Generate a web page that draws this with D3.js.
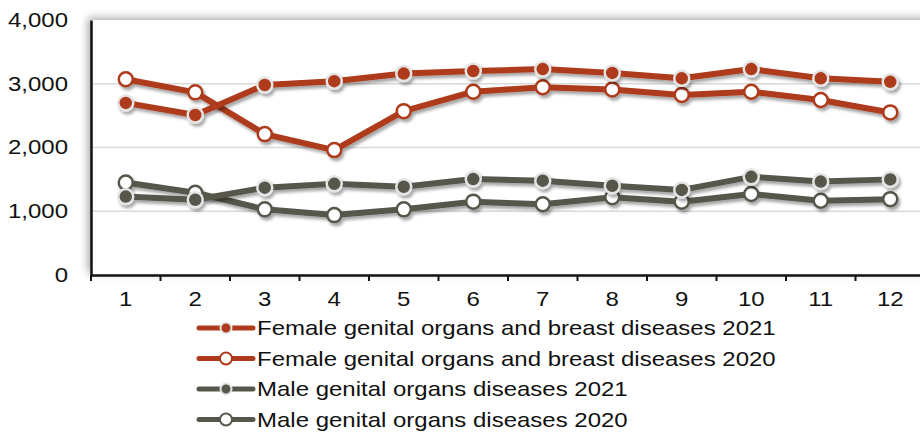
<!DOCTYPE html>
<html>
  <head>
    <meta charset="utf-8">
    <title>Genital organ diseases by month</title>
    <style media="screen">
    body{margin: 0; background: #fff}
    text {font-family: "Liberation Sans", Arial, sans-serif; fill: #111}
    </style>
  </head>
  <body>
    <script src="https://d3js.org/d3.v7.min.js"></script>
    <script type="text/javascript">
      var months = [1, 2, 3, 4, 5, 6, 7, 8, 9, 10, 11, 12]
      var yTicks = [0, 1000, 2000, 3000, 4000]

      var female2021 = [2700, 2510, 2980, 3040, 3160, 3200, 3230, 3170, 3085, 3230, 3085, 3030]
      var female2020 = [3070, 2865, 2210, 1960, 2570, 2875, 2945, 2910, 2825, 2875, 2745, 2550]
      var male2021 = [1230, 1180, 1370, 1430, 1385, 1505, 1480, 1400, 1335, 1540, 1465, 1500]
      var male2020 = [1450, 1290, 1030, 940, 1030, 1150, 1110, 1220, 1150, 1270, 1165, 1190]

      var seriesNames = [
        'Female genital organs and breast diseases 2021',
        'Female genital organs and breast diseases 2020',
        'Male genital organs diseases 2021',
        'Male genital organs diseases 2020'
      ]

      var red = '#ad3a1b', grey = '#57564c'
      var series = [
        {name: seriesNames[0], values: female2021, color: red, open: false},
        {name: seriesNames[1], values: female2020, color: red, open: true},
        {name: seriesNames[2], values: male2021, color: grey, open: false},
        {name: seriesNames[3], values: male2020, color: grey, open: true}
      ]

      var w = 920, h = 440
      var margin = {left: 91, top: 20, right: -5, bottom: 165}
      var stretch = 1.2   // the original text is drawn a little wide

      var svg = d3.select('body').append('svg')
        .attr('width', w)
        .attr('height', h)

      var defs = svg.append('defs')
      defs.append('filter').attr('id', 'frameShadow')
        .attr('x', -0.1).attr('y', -0.2).attr('width', 1.2).attr('height', 1.4)
        .append('feDropShadow')
          .attr('dx', -3).attr('dy', -2).attr('stdDeviation', 4)
          .attr('flood-color', '#000').attr('flood-opacity', 0.35)
      defs.append('filter').attr('id', 'lineShadow')
        .attr('x', -0.1).attr('y', -0.3).attr('width', 1.2).attr('height', 1.6)
        .append('feDropShadow')
          .attr('dx', 2).attr('dy', 3).attr('stdDeviation', 1.6)
          .attr('flood-color', '#000').attr('flood-opacity', 0.35)

      var x = d3.scaleBand()
        .domain(months)
        .range([margin.left, w - margin.right])

      var y = d3.scaleLinear()
        .domain([0, 4000])
        .range([h - margin.bottom, margin.top])

      // plot area with its soft shadow
      svg.append('rect')
        .attr('x', margin.left)
        .attr('y', margin.top)
        .attr('width', w - margin.right - margin.left + 10)
        .attr('height', y(0) - margin.top)
        .attr('fill', '#fff')
        .attr('filter', 'url(#frameShadow)')

      // gridlines
      svg.append('g')
        .selectAll('line')
        .data(yTicks.filter(function(d){ return d > 0 && d < 4000 }))
        .enter().append('line')
          .attr('x1', margin.left)
          .attr('x2', w)
          .attr('y1', function(d){ return y(d) })
          .attr('y2', function(d){ return y(d) })
          .attr('stroke', '#d9d9d9')
          .attr('stroke-width', 1.5)

      // y axis
      var yAxis = svg.append('g')
        .attr('transform', 'translate(' + margin.left + ',0)')
        .call(d3.axisLeft(y).tickValues(yTicks).tickSize(0)
          .tickFormat(d3.format(',')))
      yAxis.select('.domain').attr('stroke', '#111').attr('stroke-width', 2.5)
      yAxis.selectAll('text')
        .style('font-size', '20px')
        .attr('fill', '#111')
        .attr('x', -23 / stretch)
        .attr('transform', 'scale(' + stretch + ',1)')

      // x axis
      var xAxis = svg.append('g')
        .attr('transform', 'translate(0,' + y(0) + ')')
        .call(d3.axisBottom(x).tickSize(0).tickPadding(13))
      xAxis.select('.domain').attr('stroke', '#111').attr('stroke-width', 2.5)
      xAxis.selectAll('text')
        .style('font-size', '20px')
        .attr('fill', '#111')
        .attr('dy', '0.9em')
        .attr('transform', 'scale(' + stretch + ',1)')
      // boundary ticks between months
      xAxis.append('g').selectAll('line')
        .data(months)
        .enter().append('line')
          .attr('x1', function(d){ return x(d) })
          .attr('x2', function(d){ return x(d) })
          .attr('y1', 0)
          .attr('y2', 6)
          .attr('stroke', '#111')
          .attr('stroke-width', 2)

      var line = d3.line()
        .x(function(d, i){ return x(months[i]) + x.bandwidth() / 2 })
        .y(function(d){ return y(d) })

      var drawOrder = [3, 2, 1, 0]
      drawOrder.forEach(function(k){
        var s = series[k]
        var g = svg.append('g').attr('filter', 'url(#lineShadow)')
        g.append('path')
          .datum(s.values)
          .attr('d', line)
          .attr('fill', 'none')
          .attr('stroke', s.color)
          .attr('stroke-width', 6)
          .attr('stroke-linejoin', 'round')
        g.selectAll('circle')
          .data(s.values)
          .enter().append('circle')
            .attr('cx', function(d, i){ return x(months[i]) + x.bandwidth() / 2 })
            .attr('cy', function(d){ return y(d) })
            .attr('r', s.open ? 7 : 7.5)
            .attr('fill', s.open ? '#fff' : s.color)
            .attr('stroke', s.open ? s.color : '#e4e4e4')
            .attr('stroke-width', 2.5)
      })

      // legend
      var legend = svg.append('g')
        .attr('transform', 'translate(197,328)')
      var row = legend.selectAll('g')
        .data(series)
        .enter().append('g')
          .attr('transform', function(d, i){ return 'translate(0,' + (i * 30.5) + ')' })
      row.append('line')
        .attr('x1', 2).attr('x2', 56)
        .attr('y1', 0).attr('y2', 0)
        .attr('stroke', function(d){ return d.color })
        .attr('stroke-width', 5)
        .attr('stroke-linecap', 'round')
      row.append('circle')
        .attr('cx', 29).attr('cy', 0)
        .attr('r', function(d){ return d.open ? 6 : 5.5 })
        .attr('fill', function(d){ return d.open ? '#fff' : d.color })
        .attr('stroke', function(d){ return d.open ? d.color : '#e4e4e4' })
        .attr('stroke-width', 2)
      row.append('text')
        .attr('transform', 'translate(60,0) scale(' + stretch + ',1)')
        .attr('dy', '0.35em')
        .style('font-size', '20px')
        .text(function(d){ return d.name })
    </script>
  </body>
</html>
